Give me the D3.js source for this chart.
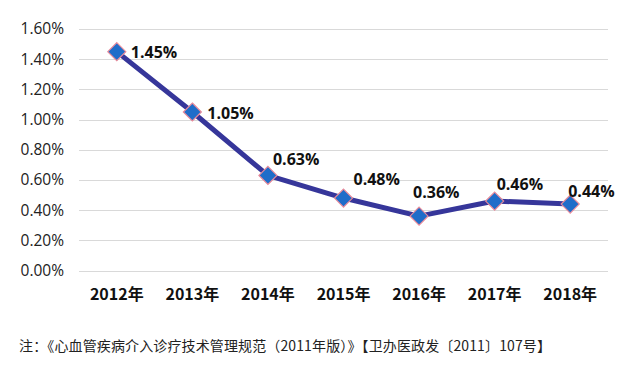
<!DOCTYPE html>
<html><head><meta charset="utf-8">
<script src="https://cdn.jsdelivr.net/npm/d3@7/dist/d3.min.js"></script>
<style>
html,body{margin:0;padding:0;background:#fff;}
svg{display:block;font-family:"Noto Sans CJK SC","Noto Sans",sans-serif;}
</style></head>
<body><svg id="c" width="630" height="367"></svg>
<script>
const categories = ["2012年","2013年","2014年","2015年","2016年","2017年","2018年"];
const values = [1.45, 1.05, 0.63, 0.48, 0.36, 0.46, 0.44];
const yTicks = [0, 0.2, 0.4, 0.6, 0.8, 1.0, 1.2, 1.4, 1.6];
const labelOffsets = [[14,1],[15,1],[5,-16],[10,-19],[-6,-24],[2,-17],[-2,-13]];
const note = "注：《心血管疾病介入诊疗技术管理规范（2011年版）》【卫办医政发〔2011〕107号】";

const svg = d3.select("#c");
const x = d3.scaleBand().domain(categories).range([79, 608]);
const y = d3.scaleLinear().domain([0, 1.6]).range([270.5, 29]);

// gridlines
svg.append("g").selectAll("line").data(yTicks).join("line")
  .attr("x1", 79).attr("x2", 608)
  .attr("y1", d => Math.round(y(d)) + 0.5).attr("y2", d => Math.round(y(d)) + 0.5)
  .attr("stroke", "#d9d9d9").attr("stroke-width", 1.2);

// y axis
const ya = svg.append("g").attr("transform", "translate(64,0)")
  .call(d3.axisLeft(y).tickValues(yTicks).tickFormat(d => d.toFixed(2) + "%").tickSize(0).tickPadding(0));
ya.select(".domain").remove();
ya.selectAll("text").attr("font-family", "'Open Sans','Noto Sans',sans-serif")
  .attr("font-size", 15.5).attr("fill", "#222");

// x axis
const xa = svg.append("g").attr("transform", "translate(0,289)")
  .call(d3.axisBottom(x).tickSize(0).tickPadding(0));
xa.select(".domain").remove();
xa.selectAll("text").attr("font-family", "'Noto Sans CJK SC',sans-serif")
  .attr("font-size", 16).attr("font-weight", "bold").attr("fill", "#111").attr("dy", "0.7em");

const cx = d => x(d) + x.bandwidth() / 2;
const line = d3.line().x((d, i) => cx(categories[i])).y(d => y(d));
svg.append("path").datum(values).attr("d", line)
  .attr("fill", "none").attr("stroke", "#36369a").attr("stroke-width", 5)
  .attr("stroke-linejoin", "round");

// markers
svg.append("g").selectAll("path").data(values).join("path")
  .attr("transform", (d, i) => `translate(${cx(categories[i])},${y(d)})`)
  .attr("d", "M0,-9L9,0L0,9L-9,0Z")
  .attr("fill", "#1f6dc9").attr("stroke", "#e88a9a").attr("stroke-width", 1.2);

// data labels
svg.append("g").selectAll("text").data(values).join("text")
  .attr("x", (d, i) => cx(categories[i]) + labelOffsets[i][0])
  .attr("y", (d, i) => y(d) + labelOffsets[i][1])
  .attr("dy", "0.35em")
  .attr("font-family", "'Open Sans','Noto Sans',sans-serif")
  .attr("font-size", 16).attr("font-weight", "bold").attr("fill", "#111")
  .text(d => d.toFixed(2) + "%");

// note
svg.append("text").attr("x", 19).attr("y", 351)
  .attr("font-size", 14).attr("fill", "#222")
  .attr("font-family", "'Noto Sans CJK SC',sans-serif")
  .attr("textLength", 532).attr("lengthAdjust", "spacing")
  .text(note);
</script></body></html>
